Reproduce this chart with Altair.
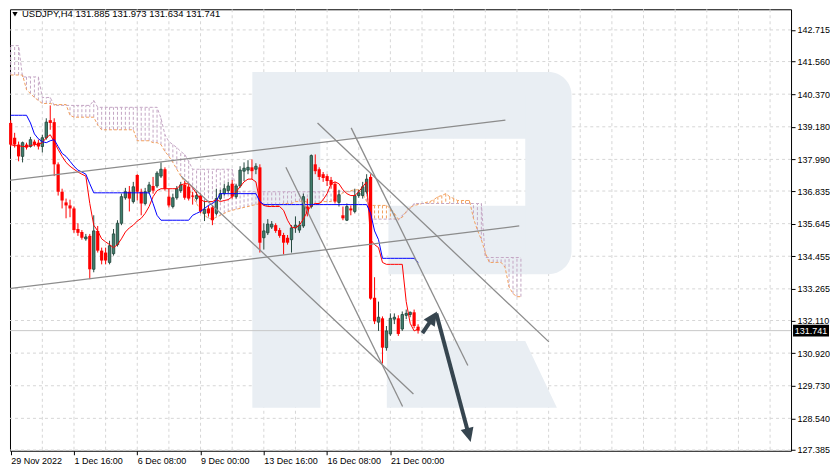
import math
import altair as alt
import pandas as pd

SYMBOL = "USDJPY,H4"

# ---- H4 candles, bar 0 = 29 Nov 2022 00:00 ----
opens = [139.32, 138.78, 138.53, 138.10, 138.53, 138.46, 138.64, 138.60, 138.46, 138.78,
         139.42, 139.35, 137.81, 136.81, 136.42, 136.31, 136.20, 135.45, 135.34, 135.09,
         135.20, 133.98, 135.38, 134.66, 134.59, 134.23, 134.55, 134.88, 135.66, 136.59,
         136.81, 136.45, 137.42, 136.81, 136.38, 136.81, 137.02, 137.02, 137.38, 137.63,
         136.63, 136.27, 136.59, 136.85, 137.06, 136.99, 136.67, 136.56, 136.67, 136.02,
         136.20, 136.24, 136.02, 136.56, 136.74, 136.85, 137.10, 136.63, 137.02, 137.56,
         137.60, 137.70, 137.63, 137.70, 135.13, 135.31, 135.52, 135.59, 135.41, 135.23,
         135.13, 135.06, 135.49, 135.41, 135.56, 136.27, 136.27, 137.81, 137.63, 137.45,
         137.38, 137.24, 137.10, 136.42, 135.95, 135.77, 136.20, 136.09, 136.67, 136.67,
         136.81, 137.35, 132.94, 132.05, 132.19, 131.12, 131.62, 132.16, 132.19, 131.80,
         132.30, 132.33, 132.41, 131.885]
highs = [139.42, 138.96, 138.64, 138.64, 138.60, 138.81, 138.71, 138.71, 138.89, 139.49,
         139.96, 139.49, 137.88, 136.92, 136.56, 136.52, 136.27, 135.66, 135.41, 135.27,
         135.27, 135.95, 135.56, 134.77, 134.77, 135.02, 135.45, 135.77, 136.74, 136.95,
         137.02, 137.17, 137.45, 136.92, 136.95, 137.17, 137.35, 137.56, 137.88, 137.70,
         136.92, 136.74, 137.02, 137.17, 137.20, 137.10, 136.81, 136.81, 136.74, 136.49,
         136.31, 136.31, 136.92, 136.88, 137.10, 137.17, 137.24, 137.10, 137.74, 137.88,
         137.96, 137.99, 137.85, 137.81, 135.66, 135.81, 135.74, 135.66, 135.49, 135.31,
         135.23, 135.59, 135.91, 135.74, 136.74, 136.56, 138.17, 138.17, 137.70, 137.53,
         137.45, 137.35, 137.17, 136.88, 136.27, 136.38, 136.31, 136.92, 136.88, 137.17,
         137.45, 137.45, 133.69, 132.80, 132.26, 131.91, 132.37, 132.37, 132.30, 132.44,
         132.51, 132.44, 132.51, 131.973]
lows = [138.46, 138.42, 137.92, 137.88, 138.35, 138.42, 138.46, 138.35, 138.24, 138.71,
        139.07, 137.38, 136.67, 136.20, 135.84, 135.88, 135.31, 135.20, 135.06, 135.02,
        133.62, 133.87, 134.59, 134.16, 134.16, 134.16, 134.48, 134.81, 135.59, 136.52,
        136.09, 136.38, 136.49, 135.95, 136.31, 136.74, 136.74, 136.95, 137.31, 136.85,
        136.24, 136.20, 136.52, 136.77, 136.52, 136.49, 136.34, 136.49, 136.02, 135.74,
        135.91, 135.59, 135.95, 136.49, 136.67, 136.74, 136.56, 136.56, 136.95, 137.20,
        137.45, 137.27, 137.45, 134.59, 134.70, 135.23, 135.45, 135.31, 135.13, 134.52,
        134.88, 134.59, 135.31, 135.31, 135.49, 135.91, 136.20, 137.45, 137.24, 137.17,
        137.02, 136.92, 136.38, 136.27, 135.77, 135.74, 135.95, 136.02, 136.59, 136.56,
        136.74, 132.87, 131.98, 131.73, 130.54, 131.01, 131.55, 131.98, 131.55, 131.73,
        132.16, 132.23, 131.83, 131.634]
closes = [138.53, 138.53, 138.10, 138.60, 138.42, 138.71, 138.53, 138.46, 138.78, 139.35,
          139.32, 137.81, 136.81, 136.49, 136.31, 136.20, 135.41, 135.31, 135.13, 135.16,
          133.98, 135.38, 134.66, 134.30, 134.30, 134.84, 135.27, 135.66, 136.63, 136.81,
          136.56, 136.99, 136.81, 136.38, 136.81, 137.06, 136.85, 137.49, 137.63, 136.92,
          136.31, 136.59, 136.92, 137.06, 136.59, 136.56, 136.63, 136.67, 136.09, 136.17,
          136.02, 135.77, 136.56, 136.74, 136.92, 137.02, 136.63, 137.02, 137.60, 137.67,
          137.70, 137.56, 137.74, 134.95, 135.38, 135.63, 135.63, 135.38, 135.20, 134.95,
          134.95, 135.49, 135.59, 135.59, 136.63, 136.02, 138.13, 137.56, 137.35, 137.31,
          137.20, 137.06, 136.45, 136.70, 135.84, 136.27, 136.13, 136.67, 136.77, 136.99,
          137.27, 132.91, 132.08, 132.23, 131.12, 131.73, 132.19, 132.23, 131.62, 132.33,
          132.37, 132.41, 131.91, 131.741]

# ---- Ichimoku lines ----
tenkan = [138.53, 138.49, 138.49, 138.46, 138.46, 138.49, 138.53, 138.53, 138.60, 138.78,
          138.89, 138.64, 138.35, 138.10, 137.88, 137.74, 137.63, 137.53, 137.45, 137.38,
          136.38, 135.59, 135.38, 135.09, 134.98, 134.88, 134.77, 134.88, 135.09, 135.34,
          135.49, 135.59, 135.74, 135.84, 136.02, 136.27, 136.63, 136.85, 136.92, 136.92,
          136.92, 136.92, 136.92, 137.06, 137.10, 137.10, 136.95, 136.74, 136.52, 136.45,
          136.45, 136.45, 136.52, 136.45, 136.49, 136.52, 136.63, 136.81, 136.99, 137.17,
          137.27, 137.27, 137.17, 136.45, 136.31, 136.27, 136.27, 136.27, 136.27, 136.13,
          135.77, 135.52, 135.49, 135.59, 135.81, 136.09, 136.31, 136.38, 136.38, 136.52,
          136.74, 137.10, 137.17, 137.10, 136.88, 136.74, 136.67, 136.67, 136.81, 136.99,
          137.17, 135.06, 134.88, 134.77, 134.23, 134.16, 134.16, 134.16, 134.16, 134.16,
          132.80, 132.01, 131.73, 131.80]
kijun = ([139.60] * 5 +
         [139.32, 138.92, 138.74, 138.64, 138.60, 138.67, 138.71, 138.46, 138.21, 138.10,
          137.92, 137.74, 137.60, 137.53, 137.45, 137.10] +
         [136.77] * 15 +
         [136.38, 135.95] +
         [135.77] * 8 +
         [135.95, 136.02, 136.09, 136.20, 136.31, 136.38, 136.49] +
         [136.74] * 10 +
         [136.45] +
         [136.34] * 27 +
         [136.02, 135.38, 135.06] +
         [134.38] * 9 +
         [134.23])
senkou_a = ([141.07] * 4 +
            [140.53, 140.39, 140.25, 140.14, 140.03, 140.03, 140.03] +
            [139.99] * 4 + [139.60] + [139.53] * 6 + [139.24] + [139.07] * 9 +
            [138.67] * 4 + [138.60] * 2 +
            [138.53, 138.28, 138.10, 137.88, 137.63, 137.38, 137.17, 136.92, 136.67, 136.38,
             136.13, 135.95, 135.84, 135.81, 135.88, 135.95, 136.02, 136.09, 136.13, 136.17,
             136.20, 136.24, 136.27, 136.31, 136.34, 136.38] +
            [136.31] * 5 + [136.38] * 3 + [136.45] * 2 + [136.49] + [136.42] * 2 +
            [136.38] * 2 + [136.45] * 3 +
            [136.56, 136.67, 136.77, 136.81, 136.85, 136.88, 136.88, 136.74, 136.45] +
            [136.31] * 5 +
            [136.20, 136.02, 135.81, 135.88, 136.09, 136.24, 136.31, 136.34, 136.38, 136.42,
             136.45, 136.52, 136.63, 136.67, 136.74, 136.63, 136.56] +
            [136.49] * 4 +
            [135.84, 135.41, 135.06, 134.59] +
            [134.23] * 4 +
            [134.05, 133.34, 133.09, 132.98, 132.98])
senkou_b = ([142.14] * 3 + [141.00] * 5 + [140.25] * 3 + [139.96] * 10 + [140.14] +
            [139.89] * 16 +
            [139.49, 138.89, 138.64, 138.53, 138.42, 138.28, 138.17, 137.92] +
            [137.63] * 11 + [136.81] * 34 + [135.81] * 7 +
            [135.77, 135.95, 136.06, 136.20] +
            [136.38] * 18 + [134.41] * 10)

# ---- axes ----
x_tick_bars = [0, 16, 32, 48, 64, 80, 96]
x_tick_labels = ["29 Nov 2022", "1 Dec 16:00", "6 Dec 08:00", "9 Dec 00:00",
                 "13 Dec 16:00", "16 Dec 08:00", "21 Dec 00:00"]
x_grid_bars = list(range(8, 197, 8))
y_ticks = [142.715, 141.560, 140.370, 139.180, 137.990, 136.835, 135.645,
           134.455, 133.265, 132.110, 130.920, 129.730, 128.540, 127.385]

# ---- analyst trend lines (bar index, price) ----
trend_x0 = [-0.68, -0.68, 77.58, 86.08, 69.58, 43.08]
trend_y0 = [137.22, 133.27, 139.32, 139.14, 137.70, 137.38]
trend_x1 = [125.08, 128.58, 136.08, 115.58, 99.08, 101.83]
trend_y1 = [139.42, 135.56, 131.33, 130.47, 128.97, 129.43]

# ---- forecast arrows ----
arrow_x0 = [104.1, 107.6]
arrow_y0 = [131.65, 132.37]
arrow_x1 = [107.8, 116.3]
arrow_y1 = [132.44, 127.68]

# ---- background logo (bar index, price) ----
wm_x0 = [61.1, 70.0, 95.5]
wm_x1 = [78.3, 130.5, 130.5]
wm_y0 = [128.93, 138.74, 133.80]
wm_y1 = [141.18, 141.18, 136.30]
wm_round_x = [130.1]
wm_round_x2 = [141.8]
wm_round_y = [133.80]
wm_round_y2 = [141.18]
wm_leg_x = [95.1, 130.1, 138.1]
wm_leg_lo = [128.93, 128.93, 128.93]
wm_leg_hi = [131.36, 131.36, 128.93]

W, H = 782, 442
XDOM = [-0.175, 197.3]
YDOM = [127.358, 143.468]
FONT = "Liberation Sans"
FS = 9
WM = "#e9eef3"
GRID = "#d6d6d6"
BULL_FILL = "#3f7f6d"
BULL_LINE = "#27493f"
BEAR = "#ff0000"
THISTLE = "#c4a6c4"
SANDY = "#f2a05c"

xs = alt.Scale(domain=XDOM, nice=False, zero=False, padding=0)
ys = alt.Scale(domain=YDOM, nice=False, zero=False, padding=0)

x_axis = alt.Axis(values=x_tick_bars,
                  labelExpr="[" + ",".join("'" + s + "'" for s in x_tick_labels) + "][round(datum.value/16)]",
                  labelAlign="left", labelPadding=2, tickSize=4, domain=False, grid=False,
                  labelOverlap=False, labelFont=FONT, labelFontSize=FS, labelColor="black",
                  tickColor="black", title=None)
y_axis = alt.Axis(values=y_ticks, format=".3f", orient="right", labelPadding=2, tickSize=4,
                  domain=False, grid=False, labelOverlap=False, labelFont=FONT,
                  labelFontSize=FS, labelColor="black", tickColor="black", labelFlush=False,
                  title=None)


def X(f):
    return alt.X(f, type="quantitative", scale=xs, axis=x_axis, title=None)


def Y(f):
    return alt.Y(f, type="quantitative", scale=ys, axis=y_axis, title=None)


n = len(opens)
bars = pd.DataFrame({"i": list(range(n)), "o": opens, "h": highs, "l": lows, "c": closes})
bars["bull"] = bars["c"] >= bars["o"]
bars["blo"] = bars[["o", "c"]].min(axis=1)
bars["bhi"] = bars[["o", "c"]].max(axis=1)

ichi = pd.DataFrame({"i": list(range(n)), "tenkan": tenkan, "kijun": kijun})
cloud = pd.DataFrame({"i": list(range(len(senkou_a))), "a": senkou_a, "b": senkou_b})
cloud["kind"] = ["b" if b >= a else "a" for a, b in zip(senkou_a, senkou_b)]

trend = pd.DataFrame({"x0": trend_x0, "y0": trend_y0, "x1": trend_x1, "y1": trend_y1})

sx = W / (XDOM[1] - XDOM[0])
sy = H / (YDOM[1] - YDOM[0])
arr_rows = []
for x0, y0, x1, y1 in zip(arrow_x0, arrow_y0, arrow_x1, arrow_y1):
    dxp = (x1 - x0) * sx
    dyp = -(y1 - y0) * sy
    L = math.hypot(dxp, dyp)
    ux, uy = dxp / L, dyp / L
    ang = math.degrees(math.atan2(dxp, -dyp)) % 360
    arr_rows.append({"x0": x0, "y0": y0, "x1": x1, "y1": y1,
                     "ex": x1 - 7 * ux / sx, "ey": y1 + 7 * uy / sy, "ang": ang})
arrows = pd.DataFrame(arr_rows)

wm = pd.DataFrame({"x0": wm_x0, "x1": wm_x1, "y0": wm_y0, "y1": wm_y1})
wm_round = pd.DataFrame({"x0": wm_round_x, "x1": wm_round_x2, "y0": wm_round_y, "y1": wm_round_y2})
wm_leg = pd.DataFrame({"x": wm_leg_x, "lo": wm_leg_lo, "hi": wm_leg_hi})

last = pd.DataFrame({"p": [closes[-1]], "t": [f"{closes[-1]:.3f}"]})
title_txt = f"{SYMBOL}  {opens[-1]:.3f} {highs[-1]:.3f} {lows[-1]:.3f} {closes[-1]:.3f}"

# layers
hgrid = alt.Chart(pd.DataFrame({"p": y_ticks})).mark_rule(color=GRID, strokeDash=[3, 3], strokeWidth=1).encode(
    y=Y("p"))
vgrid = alt.Chart(pd.DataFrame({"i": x_grid_bars})).mark_rule(color=GRID, strokeDash=[3, 3], strokeWidth=1).encode(
    x=X("i"))

wm_l = alt.Chart(wm).mark_rect(color=WM).encode(x=X("x0"), x2="x1", y=Y("y0"), y2="y1")
wm_r = alt.Chart(wm_round).mark_rect(color=WM, cornerRadiusTopRight=45, cornerRadiusBottomRight=45).encode(
    x=X("x0"), x2="x1", y=Y("y0"), y2="y1")
wm_g = alt.Chart(wm_leg).mark_area(color=WM).encode(x=X("x"), y=Y("lo"), y2="hi")

hatch = alt.Chart(cloud).mark_rule(strokeDash=[3, 2], strokeWidth=1, clip=True).encode(
    x=X("i"), y=Y("a"), y2="b",
    color=alt.Color("kind:N", scale=alt.Scale(domain=["a", "b"], range=[SANDY, THISTLE]), legend=None))
span_a = alt.Chart(cloud).mark_line(color=SANDY, strokeDash=[3, 2], strokeWidth=1, clip=True).encode(
    x=X("i"), y=Y("a"))
span_b = alt.Chart(cloud).mark_line(color=THISTLE, strokeDash=[3, 2], strokeWidth=1, clip=True).encode(
    x=X("i"), y=Y("b"))

price_line = alt.Chart(last).mark_rule(color="#c8c8c8", strokeWidth=1).encode(y=Y("p"))

wick_bull = alt.Chart(bars).transform_filter("datum.bull").mark_rule(color=BULL_LINE, strokeWidth=1).encode(
    x=X("i"), y=Y("l"), y2="h")
wick_bear = alt.Chart(bars).transform_filter("!datum.bull").mark_rule(color=BEAR, strokeWidth=1).encode(
    x=X("i"), y=Y("l"), y2="h")
body_bull = alt.Chart(bars).transform_filter("datum.bull").mark_bar(
    width=2.4, color=BULL_FILL, stroke=BULL_LINE, strokeWidth=0.9).encode(x=X("i"), y=Y("blo"), y2="bhi")
body_bear = alt.Chart(bars).transform_filter("!datum.bull").mark_bar(
    width=3.2, color=BEAR).encode(x=X("i"), y=Y("blo"), y2="bhi")

tenkan_l = alt.Chart(ichi).mark_line(color="#ff0000", strokeWidth=1).encode(x=X("i"), y=Y("tenkan"))
kijun_l = alt.Chart(ichi).mark_line(color="#0000ff", strokeWidth=1).encode(x=X("i"), y=Y("kijun"))

trend_l = alt.Chart(trend).mark_rule(color="#8c8c8c", strokeWidth=1.3, clip=True).encode(
    x=X("x0"), y=Y("y0"), x2="x1", y2="y1")

ARROW = "#36454f"
shaft = alt.Chart(arrows).mark_rule(color=ARROW, strokeWidth=4, strokeCap="butt").encode(
    x=X("x0"), y=Y("y0"), x2="ex", y2="ey")
head = alt.Chart(arrows).mark_point(shape="M0,0L-0.47,1L0.47,1Z", size=784, filled=True,
                                    color=ARROW, opacity=1, strokeWidth=0).encode(
    x=X("x1"), y=Y("y1"), angle=alt.Angle("ang:Q", scale=None))

tri = alt.Chart(pd.DataFrame({"t": [SYMBOL]})).mark_point(
    shape="triangle-down", size=28, filled=True, color="black", opacity=1).encode(
    x=alt.value(5), y=alt.value(5))
title = alt.Chart(pd.DataFrame({"t": [title_txt]})).mark_text(
    align="left", baseline="middle", font=FONT, fontSize=9.5, color="black").encode(
    x=alt.value(12), y=alt.value(5), text="t:N")

pbox = alt.Chart(last).mark_point(shape="M-1,-0.33L1,-0.33L1,0.33L-1,0.33Z", size=1296, filled=True,
                                  color="black", opacity=1, strokeWidth=0, clip=False).encode(
    x=alt.value(W + 20), y=Y("p"))
ptext = alt.Chart(last).mark_text(align="center", baseline="middle", font=FONT, fontSize=FS,
                                  color="white", clip=False).encode(
    x=alt.value(W + 20), y=Y("p"), text="t:N")

chart = alt.layer(
    hgrid, vgrid, wm_l, wm_r, wm_g, hatch, span_a, span_b, price_line,
    wick_bull, wick_bear, body_bull, body_bear, tenkan_l, kijun_l,
    trend_l, shaft, head, tri, title, pbox, ptext
).properties(width=W, height=H, padding=0, background="white").configure_view(
    stroke="black", strokeWidth=1)

chart.save("out.html", embed_options={"renderer": "svg", "actions": False})
